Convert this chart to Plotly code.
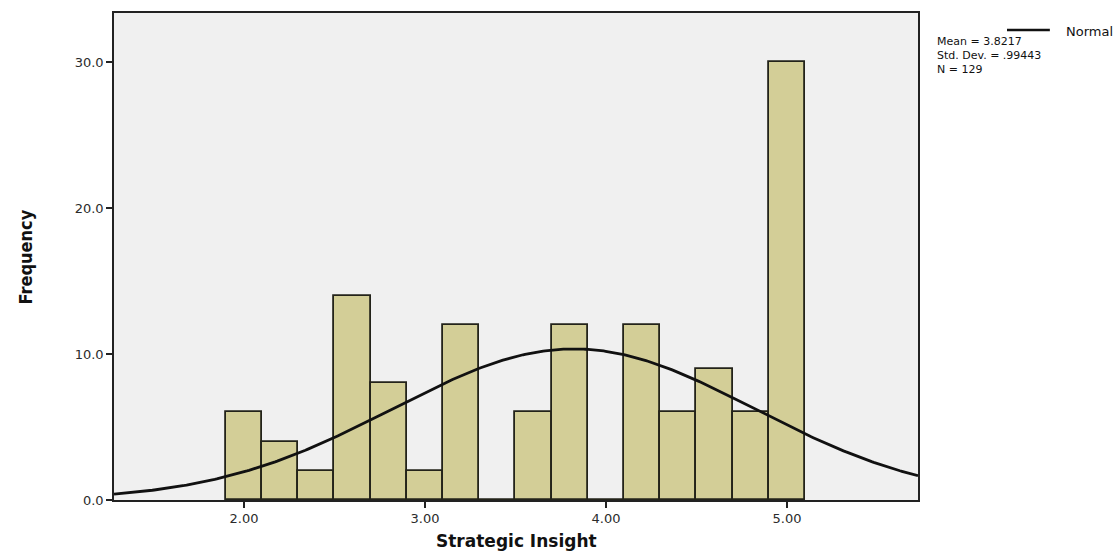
import numpy as np
import plotly.graph_objects as go

# Histogram of Strategic Insight scores (bin width 0.2)
bin_centers = [2.0, 2.2, 2.4, 2.6, 2.8, 3.0, 3.2, 3.4, 3.6, 3.8, 4.0, 4.2, 4.4, 4.6, 4.8, 5.0]
frequencies = [6, 4, 2, 14, 8, 2, 12, 0, 6, 12, 0, 12, 6, 9, 6, 30]
bin_width = 0.2

# Summary statistics shown beside the plot
mean_value = 3.8217
std_dev = 0.99443
n_cases = 129

x_tick_values = [2.0, 3.0, 4.0, 5.0]
x_tick_labels = ["2.00", "3.00", "4.00", "5.00"]
y_tick_values = [0, 10, 20, 30]
y_tick_labels = ["0.0", "10.0", "20.0", "30.0"]

x_range = [1.282, 5.724]
y_range = [0, 33.36]

# Normal curve scaled to histogram counts
curve_x = np.linspace(x_range[0], x_range[1], 400)
curve_y = (n_cases * bin_width / (std_dev * np.sqrt(2 * np.pi))
           * np.exp(-0.5 * ((curve_x - mean_value) / std_dev) ** 2))

fig = go.Figure()
fig.add_trace(go.Bar(
    x=bin_centers, y=frequencies, width=bin_width,
    marker=dict(color="#D3CE97", line=dict(color="#23231a", width=1.8)),
    showlegend=False,
))
fig.add_trace(go.Scatter(
    x=curve_x, y=curve_y, mode="lines",
    line=dict(color="#111111", width=2.8),
    showlegend=False,
))

tick_font = dict(family="DejaVu Sans, Arial, sans-serif", size=13, color="#2b2b2b")
stat_font = dict(family="DejaVu Sans, Arial, sans-serif", size=11, color="#111")

fig.update_layout(
    width=1120, height=554,
    margin=dict(l=114, r=202, t=13, b=54),
    paper_bgcolor="white",
    plot_bgcolor="#F0F0F0",
    bargap=0,
    xaxis=dict(
        range=x_range, tickvals=x_tick_values, ticktext=x_tick_labels,
        ticks="outside", ticklen=6, tickwidth=1.5, tickcolor="#222",
        showline=True, linecolor="#222", linewidth=1.6, mirror=True,
        showgrid=False, zeroline=False, tickfont=tick_font,
    ),
    yaxis=dict(
        range=y_range, tickvals=y_tick_values, ticktext=y_tick_labels,
        ticks="outside", ticklen=6, tickwidth=1.5, tickcolor="#222",
        showline=True, linecolor="#222", linewidth=1.6, mirror=True,
        showgrid=False, zeroline=False, tickfont=tick_font,
    ),
    annotations=[
        dict(text="Strategic Insight", xref="paper", yref="paper",
             x=0.5, y=-0.0842, xanchor="center", yanchor="middle", showarrow=False,
             font=dict(family="DejaVu Sans, Arial, sans-serif", size=17,
                       color="#111", weight="bold")),
        dict(text="Frequency", xref="paper", yref="paper",
             x=-0.1095, y=0.5, xanchor="center", yanchor="middle", showarrow=False,
             textangle=-90,
             font=dict(family="Liberation Sans Narrow, DejaVu Sans Condensed, Liberation Sans, Arial",
                       size=18, color="#111", weight="bold")),
        dict(text="Normal", xref="paper", yref="paper",
             x=1.245, y=0.963, xanchor="right", yanchor="middle", showarrow=False,
             font=dict(family="DejaVu Sans, Arial, sans-serif", size=13, color="#111")),
        dict(text=f"Mean = {mean_value:.4f}", xref="paper", yref="paper",
             x=1.021, y=0.9405, xanchor="left", yanchor="middle", showarrow=False,
             font=stat_font),
        dict(text="Std. Dev. = " + f"{std_dev:.5f}".lstrip("0"), xref="paper", yref="paper",
             x=1.021, y=0.9127, xanchor="left", yanchor="middle", showarrow=False,
             font=stat_font),
        dict(text=f"N = {n_cases}", xref="paper", yref="paper",
             x=1.021, y=0.8850, xanchor="left", yanchor="middle", showarrow=False,
             font=stat_font),
    ],
    shapes=[
        dict(type="line", xref="paper", yref="paper",
             x0=1.1107, x1=1.164, y0=0.965, y1=0.965,
             line=dict(color="#111", width=2.6)),
    ],
)

fig.write_html("out.html")
